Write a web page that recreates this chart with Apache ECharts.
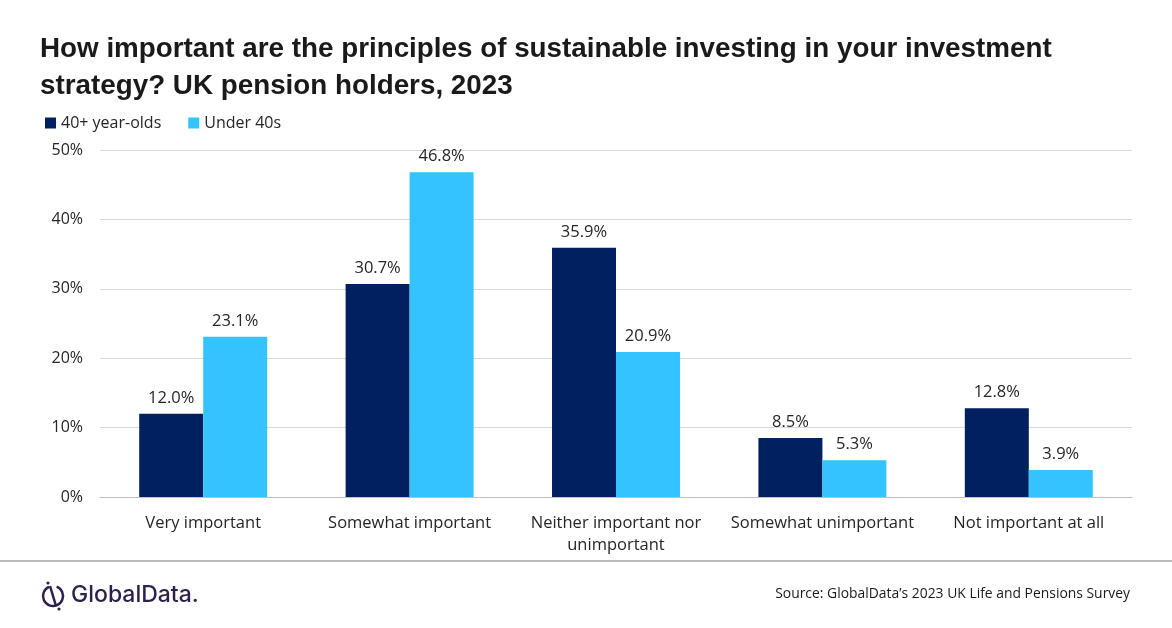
<!DOCTYPE html>
<html><head><meta charset="utf-8">
<script src="https://cdn.jsdelivr.net/npm/echarts@6/dist/echarts.min.js"></script>
<style>html,body{margin:0;padding:0;background:#fff}#c{width:1172px;height:628px}</style>
</head><body><div id="c"></div>
<script>
const categories = ['Very important','Somewhat important','Neither important nor\nunimportant','Somewhat unimportant','Not important at all'];
const over40 = [12.0, 30.7, 35.9, 8.5, 12.8];
const under40 = [23.1, 46.8, 20.9, 5.3, 3.9];
const yTicks = [0, 10, 20, 30, 40, 50];
const seriesNames = ['40+ year-olds', 'Under 40s'];

const font = '"Open Sans", sans-serif';
const tfont = 'Liberation Sans, Arial, sans-serif';
const chart = echarts.init(document.getElementById('c'));
const lbl = {show:true, position:'top', distance:7, color:'#262626', fontSize:16.5, fontFamily:font, formatter:p=>p.value.toFixed(1)+'%'};
chart.setOption({
  animation:false,
  title:{text:'How important are the principles of sustainable investing in your investment\nstrategy? UK pension holders, 2023', left:35, top:26,
    textStyle:{fontSize:27.8, fontWeight:'bold', color:'#1a1a1a', fontFamily:tfont, lineHeight:37}},
  legend:{left:40, top:110, itemWidth:11, itemHeight:11, itemGap:27, icon:'rect',
    textStyle:{fontSize:16, color:'#262626', fontFamily:font}, data:seriesNames},
  grid:{left:100, right:40, top:150, bottom:131},
  xAxis:{type:'category', data:categories,
    axisLine:{lineStyle:{color:'#bfbfbf'}}, axisTick:{show:false},
    axisLabel:{fontSize:16.5, color:'#262626', fontFamily:font, margin:15, lineHeight:22, interval:0}},
  yAxis:{type:'value', min:yTicks[0], max:yTicks[yTicks.length-1], interval:10,
    axisLine:{show:false}, axisTick:{show:false},
    axisLabel:{fontSize:16, color:'#262626', fontFamily:font, margin:17, formatter:v=>v+'%'},
    splitLine:{lineStyle:{color:'#d9d9d9'}}},
  series:[
    {name:seriesNames[0], type:'bar', data:over40, barWidth:'31%', barGap:'0%', itemStyle:{color:'#002060'}, label:lbl},
    {name:seriesNames[1], type:'bar', data:under40, barWidth:'31%', itemStyle:{color:'#33C3FF'}, label:lbl}
  ],
  graphic:[
    {type:'line', shape:{x1:0,y1:561,x2:1172,y2:561}, style:{stroke:'#a6a6a6', lineWidth:1.5}},
    {type:'text', right:42, top:587, style:{text:'Source: GlobalData\u2019s 2023 UK Life and Pensions Survey', fontSize:13.9, fill:'#1a1a1a', fontFamily:font}},
    {type:'arc', shape:{cx:53, cy:596, r:10, startAngle:-1.2, endAngle:4.3}, style:{stroke:'#2e1f4d', lineWidth:2.5, fill:null}},
    {type:'line', shape:{x1:50,y1:586,x2:56,y2:606}, style:{stroke:'#2e1f4d', lineWidth:2.5}},
    {type:'circle', shape:{cx:48, cy:583, r:1.6}, style:{fill:'#2e1f4d'}},
    {type:'circle', shape:{cx:59, cy:609, r:1.6}, style:{fill:'#2e1f4d'}},
    {type:'text', left:71, top:584, style:{text:'GlobalData.', fontSize:23, fill:'#2e1f4d', fontFamily:'Inter, sans-serif', fontWeight:500}}
  ]
});
</script></body></html>
